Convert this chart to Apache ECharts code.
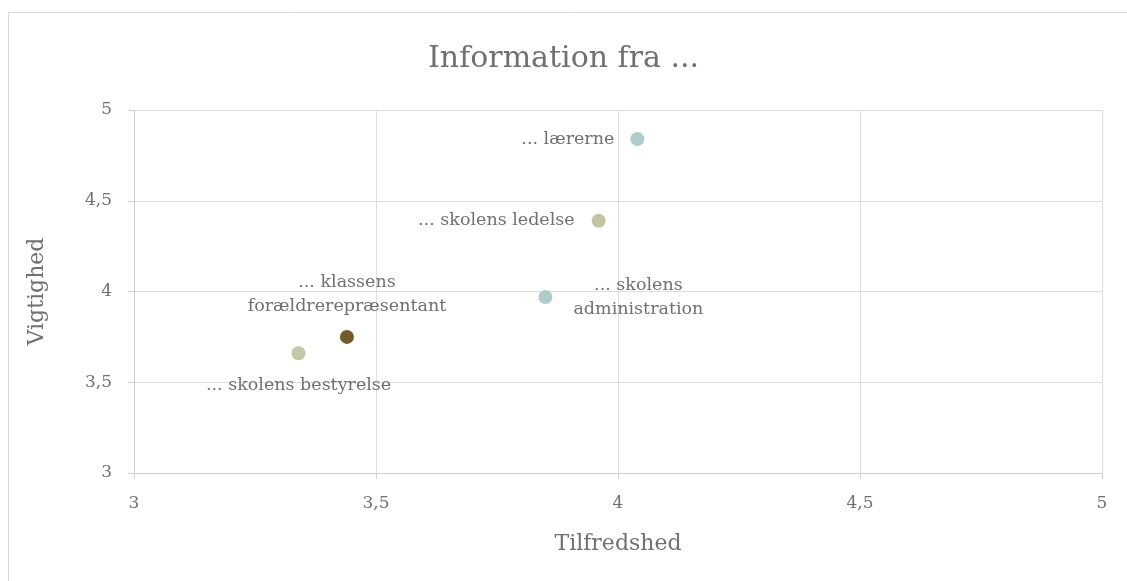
<!DOCTYPE html>
<html>

<head>
    <meta charset="utf-8" />
    <title>Information fra ...</title>
    <script src="https://cdn.jsdelivr.net/npm/echarts@6/dist/echarts.min.js"></script>
</head>

<body style="margin:0">
    <div id="main" style="width: 1127px;height: 581px;"></div>
    <script type="text/javascript">
        // data
        var names = ['... lærerne', '... skolens ledelse', '... skolens\nadministration', '... klassens\nforældrerepræsentant', '... skolens bestyrelse'];
        var tilfredshed = [4.04, 3.96, 3.85, 3.44, 3.34];
        var vigtighed = [4.84, 4.39, 3.97, 3.75, 3.66];
        var pointColors = ['#b0cbcc', '#c2c4a2', '#b0cbcc', '#735a2a', '#c5c7a9'];
        var xTicks = [3, 3.5, 4, 4.5, 5];
        var yTicks = [3, 3.5, 4, 4.5, 5];

        var font = "'DejaVu Serif', serif";
        var grey = '#707070';

        // label placement for each point
        var labelPlace = [
            { position: 'left', distance: 16 },
            { position: 'left', distance: 17 },
            { position: [100, 8], align: 'center', verticalAlign: 'middle' },
            { position: 'top', distance: 11, align: 'center' },
            { position: 'bottom', distance: 13 }
        ];

        var myChart = echarts.init(document.getElementById('main'));

        var fmt = function (v) { return String(v).replace('.', ','); };

        var data = names.map(function (n, i) {
            return {
                name: n,
                value: [tilfredshed[i], vigtighed[i]],
                itemStyle: { color: pointColors[i], opacity: 1 },
                label: Object.assign({ show: true, formatter: '{b}' }, labelPlace[i])
            };
        });

        var option = {
            animation: false,
            backgroundColor: '#fff',
            graphic: [{
                type: 'rect',
                shape: { x: 8.5, y: 12.5, width: 1130, height: 580 },
                style: { fill: 'none', stroke: '#d9d9d9', lineWidth: 1 },
                silent: true
            }],
            title: {
                text: 'Information fra ...',
                left: 'center',
                top: 39,
                textStyle: { fontFamily: font, fontSize: 30, fontWeight: 'normal', color: grey }
            },
            grid: { left: 134, right: 25, top: 110, bottom: 108 },
            xAxis: {
                type: 'value',
                min: 3, max: 5, interval: 0.5,
                name: 'Tilfredshed',
                nameLocation: 'middle',
                nameGap: 60,
                nameTextStyle: { fontFamily: font, fontSize: 22, color: grey },
                axisLine: { show: true, lineStyle: { color: '#d0d0d0' } },
                axisTick: { show: true, length: 6, lineStyle: { color: '#d0d0d0' } },
                axisLabel: { fontFamily: font, fontSize: 17, color: grey, margin: 22, formatter: fmt },
                splitLine: { lineStyle: { color: '#dedede' } }
            },
            yAxis: {
                type: 'value',
                min: 3, max: 5, interval: 0.5,
                name: 'Vigtighed',
                nameLocation: 'middle',
                nameGap: 86,
                nameTextStyle: { fontFamily: font, fontSize: 22, color: grey },
                axisLine: { show: true, lineStyle: { color: '#d0d0d0' } },
                axisTick: { show: true, length: 6, lineStyle: { color: '#d0d0d0' } },
                axisLabel: { fontFamily: font, fontSize: 17, color: grey, margin: 22, formatter: fmt },
                splitLine: { lineStyle: { color: '#dedede' } }
            },
            series: [{
                type: 'scatter',
                symbolSize: 14,
                data: data,
                label: {
                    fontFamily: font,
                    fontSize: 17.5,
                    color: grey,
                    lineHeight: 24
                }
            }]
        };

        myChart.setOption(option);
    </script>
</body>

</html>
